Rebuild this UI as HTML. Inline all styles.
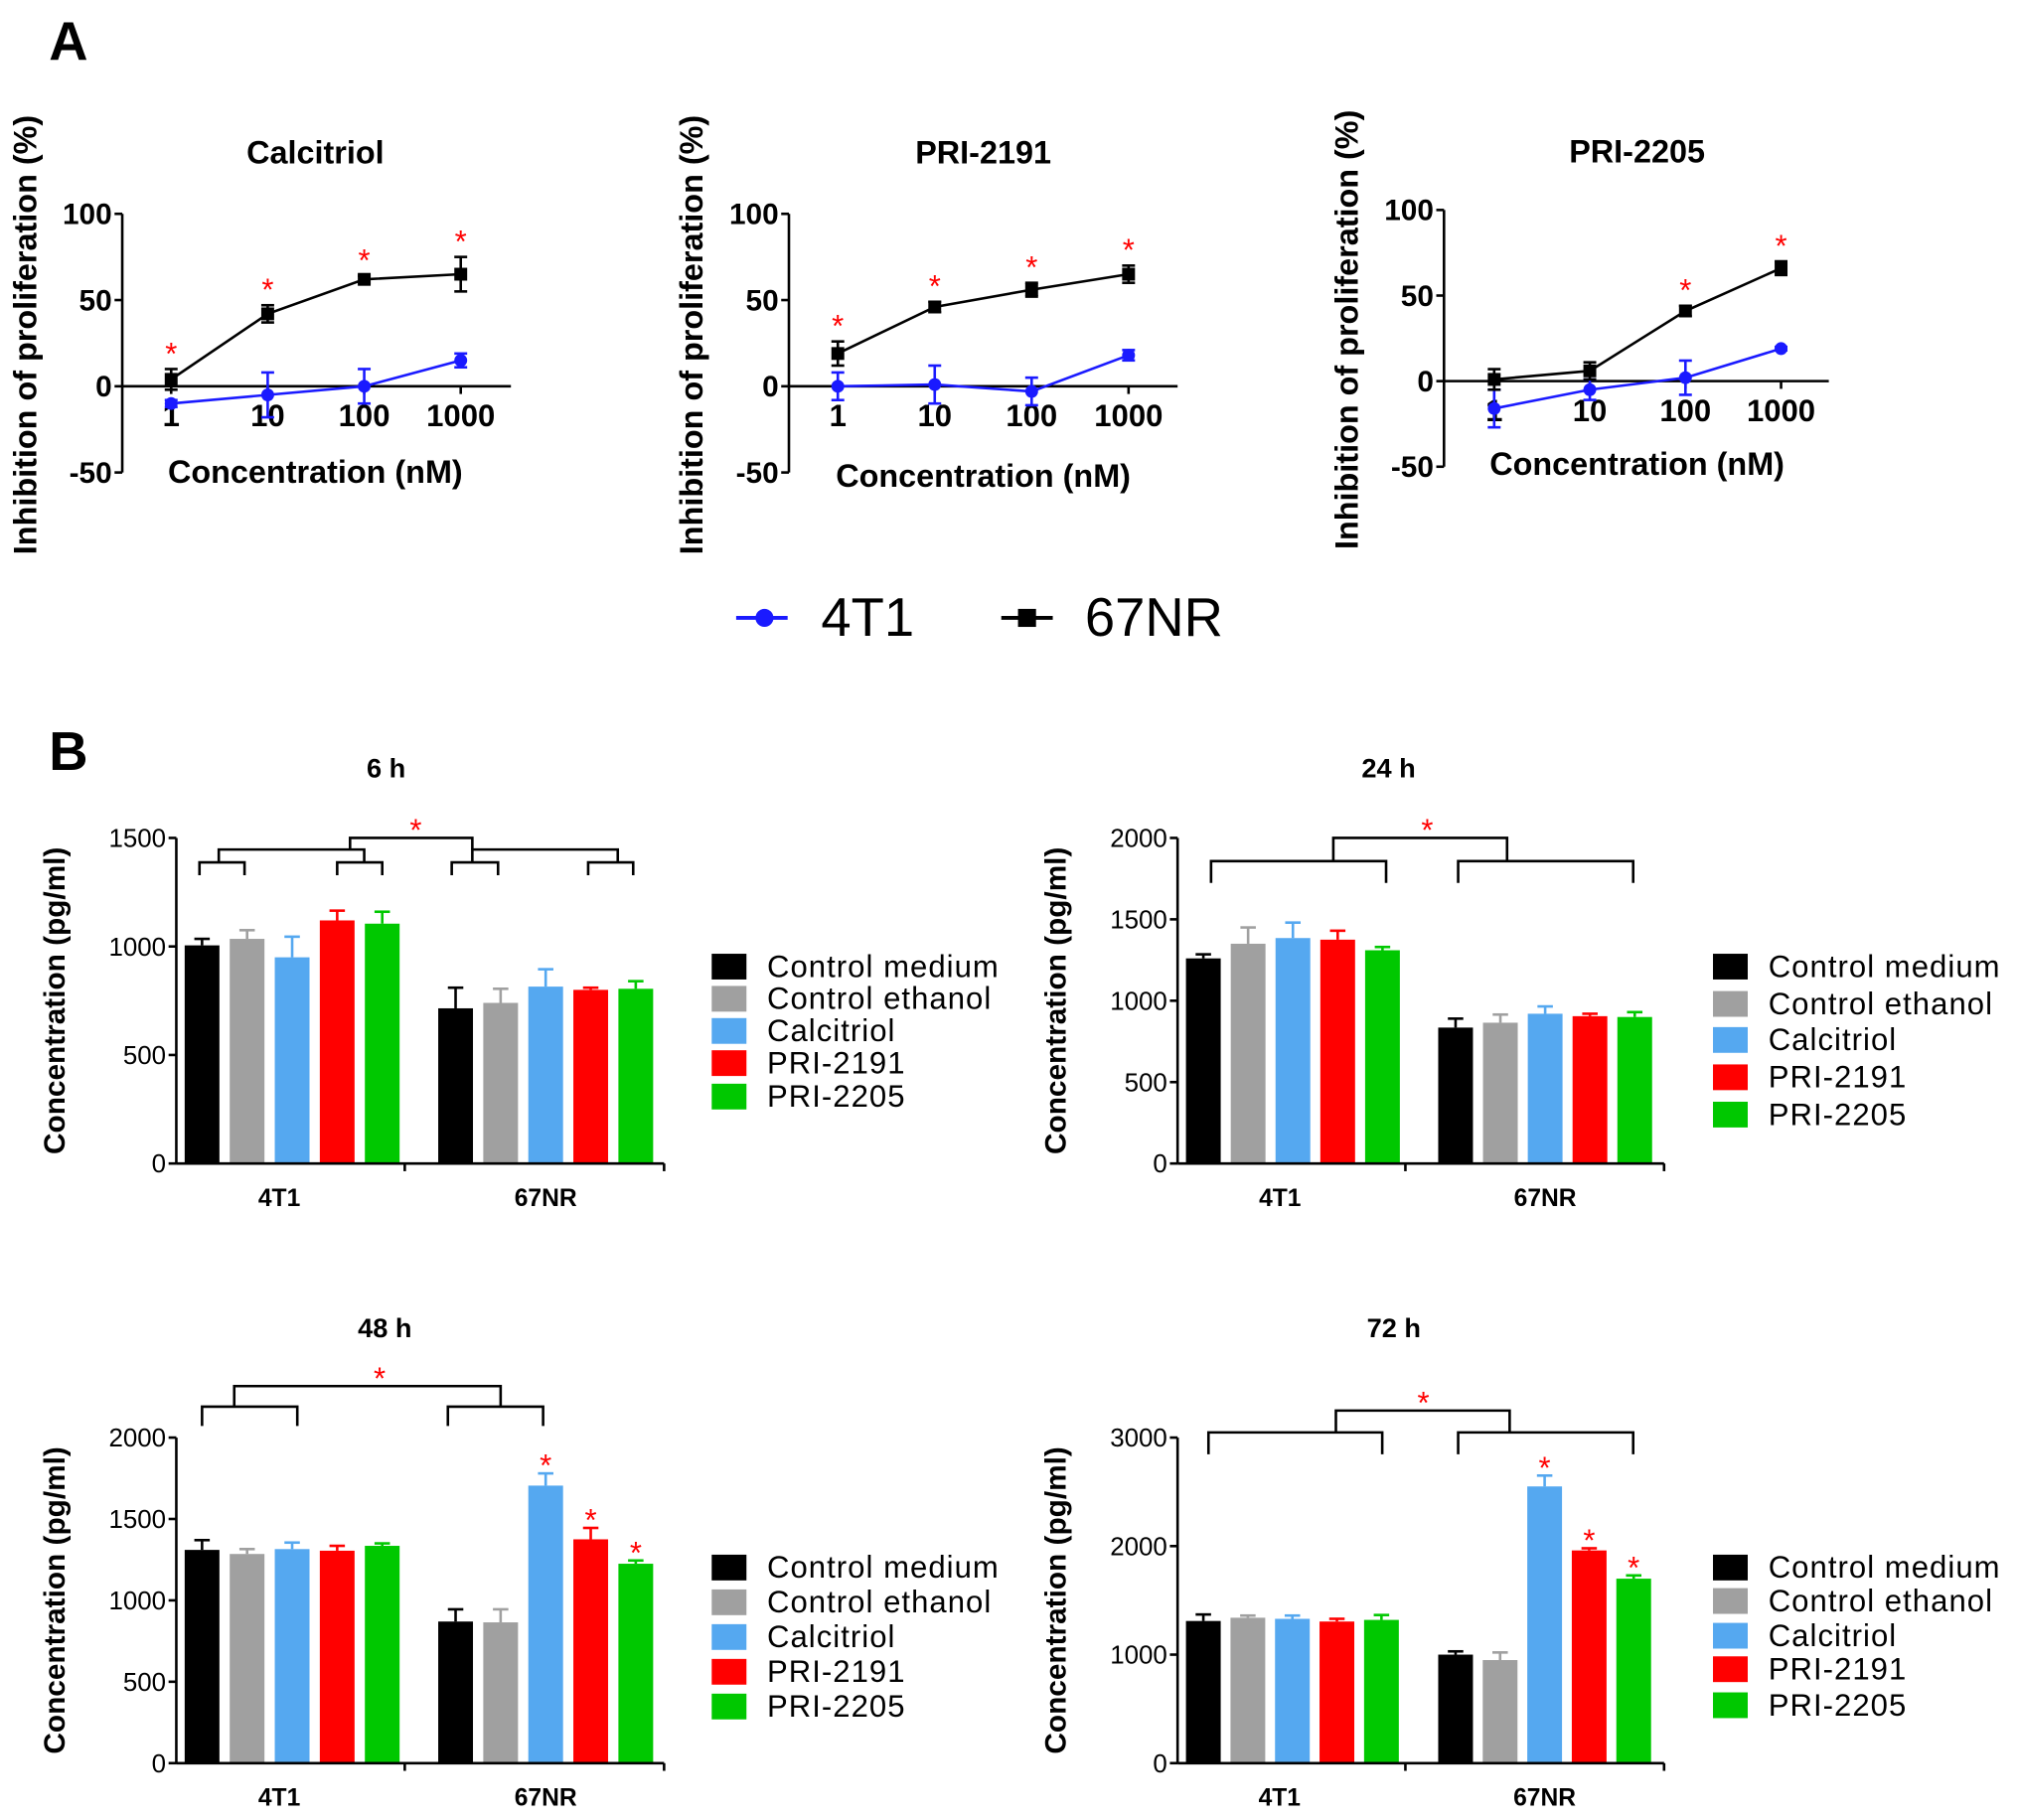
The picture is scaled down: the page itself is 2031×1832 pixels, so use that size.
<!DOCTYPE html>
<html><head><meta charset="utf-8"><style>
html,body{margin:0;padding:0;background:#fff}
svg{display:block;font-family:"Liberation Sans",Arial,sans-serif}
</style></head><body>
<svg id="fig" width="2031" height="1832" viewBox="0 0 1568 1414" xmlns="http://www.w3.org/2000/svg">
<text x="38" y="46" font-size="42" font-weight="bold">A</text>
<text x="38" y="598" font-size="42" font-weight="bold">B</text>
<g>
<line x1="572" y1="480" x2="612" y2="480" stroke="#1a1aff" stroke-width="3"/>
<circle cx="594" cy="480" r="7" fill="#1a1aff"/>
<text x="638" y="494" font-size="42">4T1</text>
<line x1="778" y1="480" x2="818" y2="480" stroke="#000" stroke-width="3"/>
<rect x="791" y="473" width="14" height="14" fill="#000"/>
<text x="843" y="494" font-size="42">67NR</text>
</g>
</svg>
<script>
// ---- Panel A data ----
const concLabels = ["1","10","100","1000"];
const titlesA = ["Calcitriol","PRI-2191","PRI-2205"];
const nr67 = [[4,42,62,65],[19,46,56,65],[1,6,41,66]];
const nr67Err = [[6,5,2,10],[7,3,4,5],[6,5,3,4]];
const t4 = [[-10,-5,0,15],[0,1,-3,18],[-16,-5,2,19]];
const t4Err = [[2,13,10,4],[8,11,8,3],[11,6,10,1]];
const starsA = [[1,1,1,1],[1,1,1,1],[0,0,1,1]];
const yTicksA = [100,50,0,-50];

// ---- Panel B data ----
const groups = ["4T1","67NR"];
const treatments = ["Control medium","Control ethanol","Calcitriol","PRI-2191","PRI-2205"];
const titlesB = ["6 h","24 h","48 h","72 h"];
const vals6 = [1005,1035,950,1120,1105, 715,740,815,800,805];
const err6 = [30,40,95,45,55, 95,65,80,10,35];
const vals24 = [1260,1350,1385,1375,1310, 835,865,920,905,900];
const err24 = [25,100,95,55,20, 55,50,45,15,30];
const vals48 = [1310,1285,1315,1305,1335, 870,865,1705,1375,1225];
const err48 = [60,30,40,30,15, 75,80,75,70,20];
const vals72 = [1310,1340,1330,1305,1320, 1000,950,2550,1960,1700];
const err72 = [60,20,30,25,45, 30,70,100,20,30];
const stars48 = [0,0,0,0,0, 0,0,1,1,1];
const stars72 = [0,0,0,0,0, 0,0,1,1,1];
const ticks6 = [0,500,1000,1500];
const ticks24 = [0,500,1000,1500,2000];
const ticks48 = [0,500,1000,1500,2000];
const ticks72 = [0,1000,2000,3000];

const NS="http://www.w3.org/2000/svg";
const svg=document.getElementById('fig');
function el(tag,attrs,parent,txt){const e=document.createElementNS(NS,tag);for(const k in attrs)e.setAttribute(k,attrs[k]);if(txt!==undefined)e.textContent=txt;(parent||svg).appendChild(e);return e;}

// Panel A
const aLayout=[{ax:95,top:166,zero:300,x0:133,step:75,end:397,cx:245,ty:127,xl:375},
 {ax:613,top:166,zero:300,x0:651,step:75.3,end:915,cx:764,ty:127,xl:378},
 {ax:1122,top:163,zero:296,x0:1161,step:74.3,end:1421,cx:1272,ty:126,xl:369}];
aLayout.forEach((L,i)=>{
  const g=el('g',{});
  
  
  const k=(L.zero-L.top)/100;
  const y=v=>L.zero-v*k, x=j=>L.x0+j*L.step;
  const t=el('text',{x:L.cx,y:L.ty,'font-size':25,'font-weight':'bold','text-anchor':'middle'},g,titlesA[i]);
  
  
  el('line',{x1:L.ax,y1:y(100),x2:L.ax,y2:y(-50),stroke:'#000','stroke-width':2},g);
  el('line',{x1:L.ax,y1:y(0),x2:L.end,y2:y(0),stroke:'#000','stroke-width':2},g);
  yTicksA.forEach(v=>{el('line',{x1:L.ax-6,y1:y(v),x2:L.ax,y2:y(v),stroke:'#000','stroke-width':2},g);
    const tt=el('text',{x:L.ax-8,y:y(v)+8,'font-size':23,'font-weight':'bold','text-anchor':'end'},g,String(v));
    
    });
  concLabels.forEach((c,j)=>{el('line',{x1:x(j),y1:y(0),x2:x(j),y2:y(0)+6,stroke:'#000','stroke-width':2},g);
    const tt=el('text',{x:x(j),y:y(0)+31,'font-size':24,'font-weight':'bold','text-anchor':'middle'},g,c);
    
    });
  const xt=el('text',{x:L.cx,y:L.xl,'font-size':25,'font-weight':'bold','text-anchor':'middle'},g,'Concentration (nM)');
  
  
  const yl=el('text',{x:0,y:0,'font-size':25,'font-weight':'bold','text-anchor':'middle',transform:`translate(${L.ax-67},${L.zero-40}) rotate(-90)`},g,'Inhibition of proliferation (%)');
  
  
  [[t4[i],t4Err[i],'#1a1aff','4t1'],[nr67[i],nr67Err[i],'#000','67nr']].forEach(([vals,errs,col,nm])=>{
    el('polyline',{points:vals.map((v,j)=>x(j)+','+y(v)).join(' '),fill:'none',stroke:col,'stroke-width':2},g);
    vals.forEach((v,j)=>{
      el('line',{x1:x(j),y1:y(v+errs[j]),x2:x(j),y2:y(v-errs[j]),stroke:col,'stroke-width':2},g);
      el('line',{x1:x(j)-5,y1:y(v+errs[j]),x2:x(j)+5,y2:y(v+errs[j]),stroke:col,'stroke-width':2},g);
      el('line',{x1:x(j)-5,y1:y(v-errs[j]),x2:x(j)+5,y2:y(v-errs[j]),stroke:col,'stroke-width':2},g);
      const m=nm==='4t1'?el('circle',{cx:x(j),cy:y(v),r:5,fill:col},g):el('rect',{x:x(j)-5,y:y(v)-5,width:10,height:10,fill:col},g);
      
      
      if(nm==='67nr'&&starsA[i][j]){const s=el('text',{x:x(j),y:y(v+errs[j])-4,'font-size':24,fill:'#ff0000','text-anchor':'middle'},g,'*');
        
        }
    });
  });
});

// Panel B
const colors=['#000000','#a0a0a0','#55a8f0','#ff0000','#00c800'];
const bLayout=[
 {vals:vals6,errs:err6,ticks:ticks6,stars:null,ax:137,zero:904,top:651,c0:157,c1:354,step:35,end:516,lx:553,rows:[751,776,801,826,852],tx:300,ty:604,
  br:[[272,367,651,660,323],[170,283,660,670],[367,480,660,670],[155,190,670,680],[262,297,670,680],[351,387,670,680],[457,492,670,680]]},
 {vals:vals24,errs:err24,ticks:ticks24,stars:null,ax:915,zero:904,top:651,c0:935,c1:1131,step:34.8,end:1293,lx:1331,rows:[751,780,808,837,866],tx:1079,ty:604,
  br:[[1036,1171,651,669,1109],[941,1077,669,686],[1133,1269,669,686]]},
 {vals:vals48,errs:err48,ticks:ticks48,stars:stars48,ax:137,zero:1370,top:1117,c0:157,c1:354,step:35,end:516,lx:553,rows:[1218,1245,1272,1299,1326],tx:299,ty:1039,
  br:[[182,389,1077,1093,295],[157,231,1093,1108],[348,422,1093,1108]]},
 {vals:vals72,errs:err72,ticks:ticks72,stars:stars72,ax:915,zero:1370,top:1117,c0:935,c1:1131,step:34.6,end:1293,lx:1331,rows:[1218,1244,1271,1297,1325],tx:1083,ty:1039,
  br:[[1038,1173,1096,1113,1106],[939,1074,1113,1130],[1133,1269,1113,1130]]}];
bLayout.forEach((L,i)=>{
  const g=el('g',{});
  
  
  const maxT=L.ticks[L.ticks.length-1];
  const y=v=>L.zero-v*(L.zero-L.top)/maxT;
  const bw=27;
  const t=el('text',{x:L.tx,y:L.ty,'font-size':21,'font-weight':'bold','text-anchor':'middle'},g,titlesB[i]);
  
  
  L.vals.forEach((v,j)=>{
    const gi=j<5?0:1, k=j%5;
    const cx=(gi?L.c1:L.c0)+k*L.step;
    const r=el('rect',{x:cx-bw/2,y:y(v),width:bw,height:L.zero-y(v),fill:colors[k]},g);
    
    
    const e=L.errs[j];
    el('line',{x1:cx,y1:y(v),x2:cx,y2:y(v+e),stroke:colors[k],'stroke-width':2},g);
    el('line',{x1:cx-6,y1:y(v+e),x2:cx+6,y2:y(v+e),stroke:colors[k],'stroke-width':2},g);
    if(L.stars&&L.stars[j]){const s=el('text',{x:cx,y:y(v+e)+2,'font-size':24,fill:'#ff0000','text-anchor':'middle'},g,'*');
      
      }
  });
  el('line',{x1:L.ax,y1:L.top,x2:L.ax,y2:L.zero,stroke:'#000','stroke-width':2},g);
  el('line',{x1:L.ax,y1:L.zero,x2:L.end,y2:L.zero,stroke:'#000','stroke-width':2},g);
  L.ticks.forEach(v=>{el('line',{x1:L.ax-6,y1:y(v),x2:L.ax,y2:y(v),stroke:'#000','stroke-width':2},g);
    const tt=el('text',{x:L.ax-8,y:y(v)+7,'font-size':20,'text-anchor':'end'},g,String(v));
    
    });
  [L.c0+2*L.step-10, L.c1+2*L.step].forEach((gx,gi)=>{
    const tt=el('text',{x:gx,y:L.zero+33,'font-size':19,'font-weight':'bold','text-anchor':'middle'},g,groups[gi]);
    
    
  });
  el('line',{x1:(L.ax+L.end)/2-12,y1:L.zero,x2:(L.ax+L.end)/2-12,y2:L.zero+6,stroke:'#000','stroke-width':2},g);
  el('line',{x1:L.end,y1:L.zero,x2:L.end,y2:L.zero+6,stroke:'#000','stroke-width':2},g);
  const yl=el('text',{x:0,y:0,'font-size':23,'font-weight':'bold','text-anchor':'middle',transform:`translate(${L.ax-87},${(L.top+L.zero)/2}) rotate(-90)`},g,'Concentration (pg/ml)');
  
  
  L.br.forEach(b=>{
    el('polyline',{points:`${b[0]},${b[3]} ${b[0]},${b[2]} ${b[1]},${b[2]} ${b[1]},${b[3]}`,fill:'none',stroke:'#000','stroke-width':2},g);
    if(b[4]){const s=el('text',{x:b[4],y:b[2]+2,'font-size':24,fill:'#ff0000','text-anchor':'middle'},g,'*');
      
      }
  });
  const lg=el('g',{},g);
  
  
  treatments.forEach((tn,k)=>{
    el('rect',{x:L.lx,y:L.rows[k]-10,width:27,height:20,fill:colors[k]},lg);
    const tt=el('text',{x:L.lx+43,y:L.rows[k]+8,'font-size':24,'letter-spacing':'0.8'},lg,tn);
    
    
  });
});
</script>
</body></html>
